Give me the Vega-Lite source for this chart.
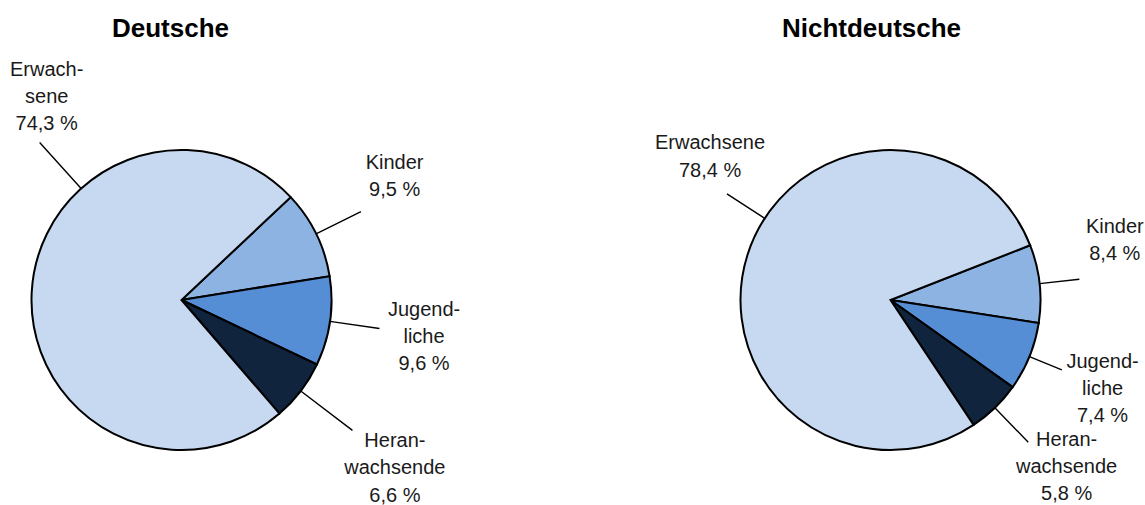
{
  "$schema": "https://vega.github.io/schema/vega-lite/v6.json",
  "padding": {"left": 0, "top": 16, "right": 0, "bottom": 0},
  "spacing": 273,
  "bounds": "flush",
  "config": {
    "view": {"stroke": null},
    "font": "Liberation Sans",
    "text": {"font": "Liberation Sans", "fontSize": 20, "lineHeight": 27.2, "align": "center", "baseline": "middle", "lineBreak": "\n", "color": "#1a1a1a"}
  },
  "datasets": {
    "deutsche": [
      {"cat": "Kinder", "value": 9.5, "label": "Kinder\n9,5 %", "ord": 1},
      {"cat": "Jugendliche", "value": 9.6, "label": "Jugend-\nliche\n9,6 %", "ord": 2},
      {"cat": "Heranwachsende", "value": 6.6, "label": "Heran-\nwachsende\n6,6 %", "ord": 3},
      {"cat": "Erwachsene", "value": 74.3, "label": "Erwach-\nsene\n74,3 %", "ord": 4}
    ],
    "nichtdeutsche": [
      {"cat": "Kinder", "value": 8.4, "label": "Kinder\n8,4 %", "ord": 1},
      {"cat": "Jugendliche", "value": 7.4, "label": "Jugend-\nliche\n7,4 %", "ord": 2},
      {"cat": "Heranwachsende", "value": 5.8, "label": "Heran-\nwachsende\n5,8 %", "ord": 3},
      {"cat": "Erwachsene", "value": 78.4, "label": "Erwachsene\n78,4 %", "ord": 4}
    ]
  },
  "hconcat": [
    {
      "width": 363,
      "height": 300,
      "title": {"text": "Deutsche", "font": "Liberation Sans", "fontSize": 26, "fontWeight": "bold", "color": "#000000", "offset": 18, "dx": -11, "anchor": "middle", "frame": "group"},
      "data": {"name": "deutsche"},
      "transform": [{"stack": "value", "groupby": [], "sort": [{"field": "ord", "order": "ascending"}], "as": ["v0", "v1"]}],
      "resolve": {"scale": {"theta": "independent"}},
      "layer": [
        {
          "mark": {"type": "arc", "outerRadius": 150, "stroke": "#000000", "strokeWidth": 2},
          "encoding": {
            "theta": {"field": "v0", "type": "quantitative", "stack": null, "scale": {"type": "linear", "domain": [0, 100], "range": [0.81507, 7.09826]}},
            "theta2": {"field": "v1"},
            "color": {"field": "cat", "type": "nominal", "scale": {"domain": ["Kinder", "Jugendliche", "Heranwachsende", "Erwachsene"], "range": ["#8DB3E2", "#558ED5", "#10243E", "#C6D9F0"]}, "legend": null}
          }
        },
        {
          "transform": [{"filter": "datum.cat === 'Kinder'"}, {"fold": ["v0", "v1"], "as": ["edge", "vv"]}, {"aggregate": [{"op": "mean", "field": "vv", "as": "vmid"}], "groupby": ["cat", "label"]}],
          "mark": {"type": "arc", "innerRadius": 150, "outerRadius": 200, "fillOpacity": 0, "stroke": "#000000", "strokeWidth": 1.4},
          "encoding": {
            "theta": {"field": "vmid", "type": "quantitative", "stack": null, "scale": {"type": "linear", "domain": [0, 100], "range": [0.81507, 7.09826]}},
            "theta2": {"field": "vmid"}
          }
        },
        {
          "transform": [{"filter": "datum.cat === 'Jugendliche'"}, {"fold": ["v0", "v1"], "as": ["edge", "vv"]}, {"aggregate": [{"op": "mean", "field": "vv", "as": "vmid"}], "groupby": ["cat", "label"]}],
          "mark": {"type": "arc", "innerRadius": 150, "outerRadius": 200, "fillOpacity": 0, "stroke": "#000000", "strokeWidth": 1.4},
          "encoding": {
            "theta": {"field": "vmid", "type": "quantitative", "stack": null, "scale": {"type": "linear", "domain": [0, 100], "range": [0.81507, 7.09826]}},
            "theta2": {"field": "vmid"}
          }
        },
        {
          "transform": [{"filter": "datum.cat === 'Heranwachsende'"}, {"fold": ["v0", "v1"], "as": ["edge", "vv"]}, {"aggregate": [{"op": "mean", "field": "vv", "as": "vmid"}], "groupby": ["cat", "label"]}],
          "mark": {"type": "arc", "innerRadius": 150, "outerRadius": 215, "fillOpacity": 0, "stroke": "#000000", "strokeWidth": 1.4},
          "encoding": {
            "theta": {"field": "vmid", "type": "quantitative", "stack": null, "scale": {"type": "linear", "domain": [0, 100], "range": [0.81507, 7.09826]}},
            "theta2": {"field": "vmid"}
          }
        },
        {
          "transform": [{"filter": "datum.cat === 'Erwachsene'"}, {"fold": ["v0", "v1"], "as": ["edge", "vv"]}, {"aggregate": [{"op": "mean", "field": "vv", "as": "vmid"}], "groupby": ["cat", "label"]}],
          "mark": {"type": "arc", "innerRadius": 150, "outerRadius": 212, "fillOpacity": 0, "stroke": "#000000", "strokeWidth": 1.4},
          "encoding": {
            "theta": {"field": "vmid", "type": "quantitative", "stack": null, "scale": {"type": "linear", "domain": [0, 100], "range": [1.6012, 7.8844]}},
            "theta2": {"field": "vmid"}
          }
        },
        {
          "transform": [{"filter": "datum.cat === 'Kinder'"}, {"fold": ["v0", "v1"], "as": ["edge", "vv"]}, {"aggregate": [{"op": "mean", "field": "vv", "as": "vmid"}], "groupby": ["cat", "label"]}],
          "mark": {"type": "text", "radius": 252, "dx": -13, "dy": -26},
          "encoding": {
            "theta": {"field": "vmid", "type": "quantitative", "stack": null, "scale": {"type": "linear", "domain": [0, 100], "range": [0.81507, 7.09826]}},
            "text": {"field": "label"}
          }
        },
        {
          "transform": [{"filter": "datum.cat === 'Jugendliche'"}, {"fold": ["v0", "v1"], "as": ["edge", "vv"]}, {"aggregate": [{"op": "mean", "field": "vv", "as": "vmid"}], "groupby": ["cat", "label"]}],
          "mark": {"type": "text", "radius": 241.5, "dx": 3.5, "dy": -24.4},
          "encoding": {
            "theta": {"field": "vmid", "type": "quantitative", "stack": null, "scale": {"type": "linear", "domain": [0, 100], "range": [0.81507, 7.09826]}},
            "text": {"field": "label"}
          }
        },
        {
          "transform": [{"filter": "datum.cat === 'Heranwachsende'"}, {"fold": ["v0", "v1"], "as": ["edge", "vv"]}, {"aggregate": [{"op": "mean", "field": "vv", "as": "vmid"}], "groupby": ["cat", "label"]}],
          "mark": {"type": "text", "radius": 255.3, "dx": 10.4, "dy": -13.7},
          "encoding": {
            "theta": {"field": "vmid", "type": "quantitative", "stack": null, "scale": {"type": "linear", "domain": [0, 100], "range": [0.81507, 7.09826]}},
            "text": {"field": "label"}
          }
        },
        {
          "transform": [{"filter": "datum.cat === 'Erwachsene'"}, {"fold": ["v0", "v1"], "as": ["edge", "vv"]}, {"aggregate": [{"op": "mean", "field": "vv", "as": "vmid"}], "groupby": ["cat", "label"]}],
          "mark": {"type": "text", "radius": 146.5, "dx": 11.5, "dy": -222.4},
          "encoding": {
            "theta": {"field": "vmid", "type": "quantitative", "stack": null, "scale": {"type": "linear", "domain": [0, 100], "range": [0.81507, 7.09826]}},
            "text": {"field": "label"}
          }
        }
      ]
    },
    {
      "width": 509,
      "height": 300,
      "title": {"text": "Nichtdeutsche", "font": "Liberation Sans", "fontSize": 26, "fontWeight": "bold", "color": "#000000", "offset": 91, "dx": -19, "anchor": "middle", "frame": "group"},
      "data": {"name": "nichtdeutsche"},
      "transform": [{"stack": "value", "groupby": [], "sort": [{"field": "ord", "order": "ascending"}], "as": ["v0", "v1"]}],
      "resolve": {"scale": {"theta": "independent"}},
      "layer": [
        {
          "mark": {"type": "arc", "outerRadius": 150, "stroke": "#000000", "strokeWidth": 2},
          "encoding": {
            "theta": {"field": "v0", "type": "quantitative", "stack": null, "scale": {"type": "linear", "domain": [0, 100], "range": [1.1973, 7.48049]}},
            "theta2": {"field": "v1"},
            "color": {"field": "cat", "type": "nominal", "scale": {"domain": ["Kinder", "Jugendliche", "Heranwachsende", "Erwachsene"], "range": ["#8DB3E2", "#558ED5", "#10243E", "#C6D9F0"]}, "legend": null}
          }
        },
        {
          "transform": [{"filter": "datum.cat === 'Kinder'"}, {"fold": ["v0", "v1"], "as": ["edge", "vv"]}, {"aggregate": [{"op": "mean", "field": "vv", "as": "vmid"}], "groupby": ["cat", "label"]}],
          "mark": {"type": "arc", "innerRadius": 150, "outerRadius": 190, "fillOpacity": 0, "stroke": "#000000", "strokeWidth": 1.4},
          "encoding": {
            "theta": {"field": "vmid", "type": "quantitative", "stack": null, "scale": {"type": "linear", "domain": [0, 100], "range": [1.1973, 7.48049]}},
            "theta2": {"field": "vmid"}
          }
        },
        {
          "transform": [{"filter": "datum.cat === 'Jugendliche'"}, {"fold": ["v0", "v1"], "as": ["edge", "vv"]}, {"aggregate": [{"op": "mean", "field": "vv", "as": "vmid"}], "groupby": ["cat", "label"]}],
          "mark": {"type": "arc", "innerRadius": 150, "outerRadius": 185, "fillOpacity": 0, "stroke": "#000000", "strokeWidth": 1.4},
          "encoding": {
            "theta": {"field": "vmid", "type": "quantitative", "stack": null, "scale": {"type": "linear", "domain": [0, 100], "range": [1.1973, 7.48049]}},
            "theta2": {"field": "vmid"}
          }
        },
        {
          "transform": [{"filter": "datum.cat === 'Heranwachsende'"}, {"fold": ["v0", "v1"], "as": ["edge", "vv"]}, {"aggregate": [{"op": "mean", "field": "vv", "as": "vmid"}], "groupby": ["cat", "label"]}],
          "mark": {"type": "arc", "innerRadius": 150, "outerRadius": 198, "fillOpacity": 0, "stroke": "#000000", "strokeWidth": 1.4},
          "encoding": {
            "theta": {"field": "vmid", "type": "quantitative", "stack": null, "scale": {"type": "linear", "domain": [0, 100], "range": [1.1973, 7.48049]}},
            "theta2": {"field": "vmid"}
          }
        },
        {
          "transform": [{"filter": "datum.cat === 'Erwachsene'"}, {"fold": ["v0", "v1"], "as": ["edge", "vv"]}, {"aggregate": [{"op": "mean", "field": "vv", "as": "vmid"}], "groupby": ["cat", "label"]}],
          "mark": {"type": "arc", "innerRadius": 150, "outerRadius": 195, "fillOpacity": 0, "stroke": "#000000", "strokeWidth": 1.4},
          "encoding": {
            "theta": {"field": "vmid", "type": "quantitative", "stack": null, "scale": {"type": "linear", "domain": [0, 100], "range": [1.4682, 7.7514]}},
            "theta2": {"field": "vmid"}
          }
        },
        {
          "transform": [{"filter": "datum.cat === 'Kinder'"}, {"fold": ["v0", "v1"], "as": ["edge", "vv"]}, {"aggregate": [{"op": "mean", "field": "vv", "as": "vmid"}], "groupby": ["cat", "label"]}],
          "mark": {"type": "text", "radius": 232.7, "dx": -7, "dy": -47.8},
          "encoding": {
            "theta": {"field": "vmid", "type": "quantitative", "stack": null, "scale": {"type": "linear", "domain": [0, 100], "range": [1.1973, 7.48049]}},
            "text": {"field": "label"}
          }
        },
        {
          "transform": [{"filter": "datum.cat === 'Jugendliche'"}, {"fold": ["v0", "v1"], "as": ["edge", "vv"]}, {"aggregate": [{"op": "mean", "field": "vv", "as": "vmid"}], "groupby": ["cat", "label"]}],
          "mark": {"type": "text", "radius": 219.6, "dx": 8.7, "dy": -21.3},
          "encoding": {
            "theta": {"field": "vmid", "type": "quantitative", "stack": null, "scale": {"type": "linear", "domain": [0, 100], "range": [1.1973, 7.48049]}},
            "text": {"field": "label"}
          }
        },
        {
          "transform": [{"filter": "datum.cat === 'Heranwachsende'"}, {"fold": ["v0", "v1"], "as": ["edge", "vv"]}, {"aggregate": [{"op": "mean", "field": "vv", "as": "vmid"}], "groupby": ["cat", "label"]}],
          "mark": {"type": "text", "radius": 225.3, "dx": 19.4, "dy": -21.8},
          "encoding": {
            "theta": {"field": "vmid", "type": "quantitative", "stack": null, "scale": {"type": "linear", "domain": [0, 100], "range": [1.1973, 7.48049]}},
            "text": {"field": "label"}
          }
        },
        {
          "transform": [{"filter": "datum.cat === 'Erwachsene'"}, {"fold": ["v0", "v1"], "as": ["edge", "vv"]}, {"aggregate": [{"op": "mean", "field": "vv", "as": "vmid"}], "groupby": ["cat", "label"]}],
          "mark": {"type": "text", "radius": 219.2, "dx": 28.6, "dy": -90.8},
          "encoding": {
            "theta": {"field": "vmid", "type": "quantitative", "stack": null, "scale": {"type": "linear", "domain": [0, 100], "range": [1.1973, 7.48049]}},
            "text": {"field": "label"}
          }
        }
      ]
    }
  ]
}
